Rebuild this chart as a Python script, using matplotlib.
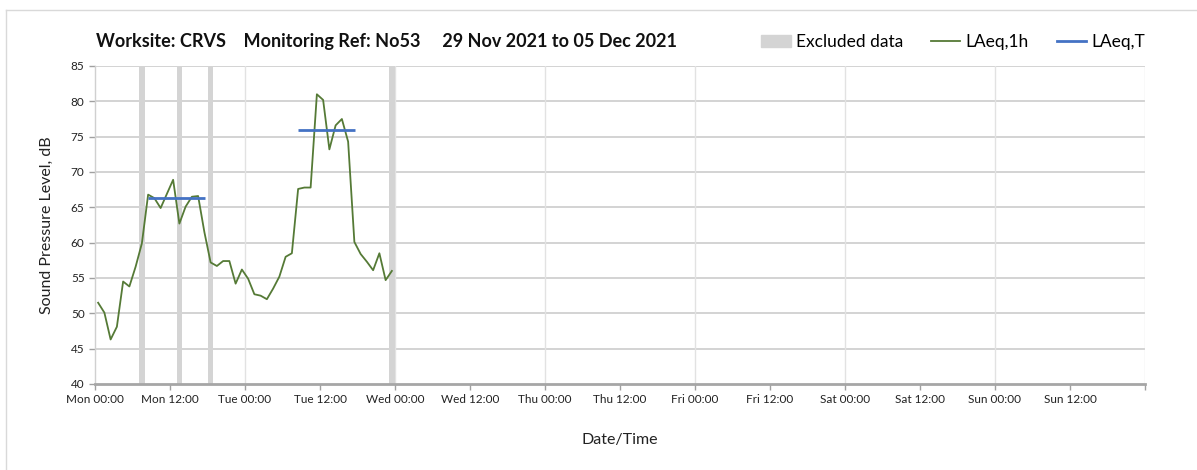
import matplotlib
matplotlib.use("Agg")
import matplotlib.pyplot as plt
from matplotlib.patches import Patch
from matplotlib.lines import Line2D

plt.rcParams['font.family'] = ['Lato', 'DejaVu Sans']

# hourly LAeq values, plotted at the middle of each hour (hours from Mon 00:00)
hours = [h + 0.5 for h in range(48)]
laeq_1h = [51.5, 50.1, 46.3, 48.1, 54.5, 53.8, 56.6, 59.9,
           66.8, 66.3, 64.9, 66.9, 68.9, 62.7, 65.1, 66.5,
           66.6, 61.5, 57.2, 56.7, 57.4, 57.4, 54.2, 56.2,
           54.9, 52.7, 52.5, 52.0, 53.5, 55.2, 58.0, 58.5,
           67.6, 67.8, 67.8, 81.0, 80.2, 73.2, 76.6, 77.5,
           74.3, 60.1, 58.4, 57.3, 56.1, 58.5, 54.7, 56.0]

# LAeq,T over the working day periods
period_start = [8.5, 32.5]
period_end = [17.6, 41.6]
laeq_t = [66.3, 76.0]

# excluded hours (start of each hour)
excluded = [7, 13, 18, 47]

tick_labels = ['Mon 00:00', 'Mon 12:00', 'Tue 00:00', 'Tue 12:00',
               'Wed 00:00', 'Wed 12:00', 'Thu 00:00', 'Thu 12:00',
               'Fri 00:00', 'Fri 12:00', 'Sat 00:00', 'Sat 12:00',
               'Sun 00:00', 'Sun 12:00', '']

green = '#557a36'
blue = '#4472c4'
grey = '#d4d4d4'

fig = plt.figure(figsize=(11.97, 4.70), dpi=100)
ax = fig.add_axes([95/1197, 1 - 384/470, 1050/1197, 318/470])

# excluded data bars
ax.bar([e + 0.5 for e in excluded], [45] * len(excluded), bottom=40,
       width=0.9, color=grey, zorder=1)

ax.plot(hours, laeq_1h, color=green, lw=1.3, zorder=3)
ax.hlines(laeq_t, period_start, period_end, color=blue, lw=2.0, zorder=4)

ax.set_xlim(0, 168)
ax.set_ylim(40, 85)
ax.set_yticks(range(40, 86, 5))
ax.set_xticks(range(0, 169, 12))
ax.set_xticklabels(tick_labels)
ax.tick_params(axis='both', labelsize=8.5, colors='#222222', length=4,
               width=1, direction='out')
ax.tick_params(axis='x', color='#a0a0a0')
ax.tick_params(axis='y', color='#a0a0a0')

# grid: horizontal every 5 dB, vertical every day
for y in range(45, 86, 5):
    ax.axhline(y, color='#d0d0d0', lw=1.3, zorder=0)
for d in range(24, 169, 24):
    ax.axvline(d, color='#e2e2e2', lw=1.0, zorder=0)

for side in ['top', 'right']:
    ax.spines[side].set_visible(False)
ax.spines['bottom'].set_color('#a6a6a6')
ax.spines['bottom'].set_linewidth(2)
ax.spines['left'].set_color('#d0d0d0')
ax.spines['left'].set_linewidth(1)

ax.set_ylabel('Sound Pressure Level, dB', fontsize=11.5, color='#222222', labelpad=12)
fig.text(620/1197, 1 - 440/470, 'Date/Time', fontsize=11.5, ha='center',
         va='center', color='#222222')

fig.text(96/1197, 1 - 42/470,
         'Worksite: CRVS    Monitoring Ref: No53     29 Nov 2021 to 05 Dec 2021',
         fontsize=13, fontweight='bold', va='center', color='#111111')

handles = [Patch(color=grey, label='Excluded data'),
           Line2D([], [], color=green, lw=1.3, label='LAeq,1h'),
           Line2D([], [], color=blue, lw=2.0, label='LAeq,T')]
fig.legend(handles=handles, loc='center right', bbox_to_anchor=(1152/1197, 1 - 42/470),
           ncol=3, frameon=False, fontsize=12.5, handlelength=1.7,
           handletextpad=0.3, columnspacing=1.6, borderaxespad=0)

# light frame on the left and top like the source image
fig.add_artist(Line2D([6/1197, 6/1197], [0, 1 - 10/470], color='#d9d9d9', lw=1))
fig.add_artist(Line2D([6/1197, 1], [1 - 10/470, 1 - 10/470], color='#d9d9d9', lw=1))

fig.savefig('out.png', dpi=100)
